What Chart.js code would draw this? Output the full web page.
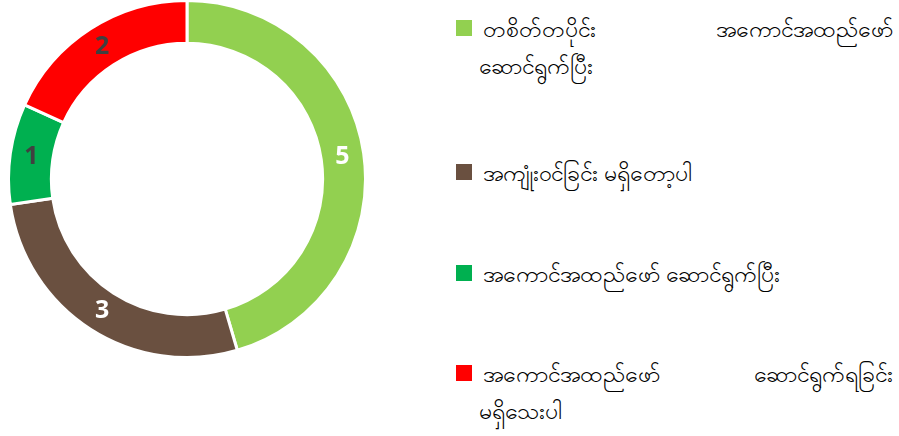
<!DOCTYPE html>
<html>
<head>
<meta charset="utf-8">
<script src="https://cdn.jsdelivr.net/npm/chart.js@4/dist/chart.umd.min.js"></script>
<style>
  html, body { margin: 0; padding: 0; background: #fff; width: 899px; height: 436px; overflow: hidden; }
  #chartBox { position: absolute; left: 7px; top: -1px; width: 360px; height: 360px; }
  .legend { position: absolute; left: 456px; width: 437px; font-family: "Noto Sans", "Open Sans", sans-serif; font-size: 23px; color: #000; line-height: 37px; }
  .sw { position: absolute; left: 0; width: 16px; height: 16px; }
  .txt { position: absolute; left: 23px; right: 0; }
  .l1 { display: flex; justify-content: space-between; padding-left: 4px; white-space: nowrap; }
  .l1.single { justify-content: flex-start; }
</style>
</head>
<body>
<div id="chartBox"><canvas id="c"></canvas></div>
<div id="legend"></div>
<script>
const categories = [
  "တစိတ်တပိုင်း အကောင်အထည်ဖော် ဆောင်ရွက်ပြီး",
  "အကျုံးဝင်ခြင်း မရှိတော့ပါ",
  "အကောင်အထည်ဖော် ဆောင်ရွက်ပြီး",
  "အကောင်အထည်ဖော် ဆောင်ရွက်ရခြင်း မရှိသေးပါ"
];
const values = [5, 3, 1, 2];
const colors = ["#92D050", "#6A5040", "#00B050", "#FF0000"];
const labelColors = ["#FFFFFF", "#FFFFFF", "#404040", "#404040"];

// legend lines: how each label's text is laid out (first line words, remaining line)
const legendLines = [
  [["တစိတ်တပိုင်း", "အကောင်အထည်ဖော်"], "ဆောင်ရွက်ပြီး"],
  [["အကျုံးဝင်ခြင်း မရှိတော့ပါ"], null],
  [["အကောင်အထည်ဖော် ဆောင်ရွက်ပြီး"], null],
  [["အကောင်အထည်ဖော်", "ဆောင်ရွက်ရခြင်း"], "မရှိသေးပါ"]
];
const legendTops = [10, 154, 255, 355];

const lg = document.getElementById('legend');
legendLines.forEach((ln, i) => {
  const item = document.createElement('div');
  item.className = 'legend';
  item.style.top = legendTops[i] + 'px';
  const sw = document.createElement('div');
  sw.className = 'sw';
  sw.style.background = colors[i];
  sw.style.top = '10px';
  item.appendChild(sw);
  const txt = document.createElement('div');
  txt.className = 'txt';
  const l1 = document.createElement('div');
  l1.className = 'l1' + (ln[0].length === 1 ? ' single' : '');
  ln[0].forEach(w => { const s = document.createElement('span'); s.textContent = w; l1.appendChild(s); });
  txt.appendChild(l1);
  if (ln[1]) { const l2 = document.createElement('div'); l2.textContent = ln[1]; txt.appendChild(l2); }
  item.appendChild(txt);
  lg.appendChild(item);
});

const valueLabels = {
  id: 'valueLabels',
  afterDatasetsDraw(chart) {
    const ctx = chart.ctx;
    const meta = chart.getDatasetMeta(0);
    ctx.save();
    ctx.font = 'bold 25px "Open Sans", "Noto Sans", sans-serif';
    ctx.textAlign = 'center';
    ctx.textBaseline = 'middle';
    meta.data.forEach((arc, i) => {
      const p = arc.tooltipPosition();
      ctx.fillStyle = labelColors[i];
      ctx.fillText(String(values[i]), p.x, p.y);
    });
    ctx.restore();
  }
};

new Chart(document.getElementById('c'), {
  type: 'doughnut',
  data: {
    labels: categories,
    datasets: [{
      data: values,
      backgroundColor: colors,
      borderColor: '#FFFFFF',
      borderWidth: 3,
      hoverOffset: 0
    }]
  },
  options: {
    responsive: true,
    maintainAspectRatio: false,
    animation: false,
    cutout: '76%',
    layout: { padding: 0 },
    plugins: { legend: { display: false }, tooltip: { enabled: false } }
  },
  plugins: [valueLabels]
});
</script>
</body>
</html>
